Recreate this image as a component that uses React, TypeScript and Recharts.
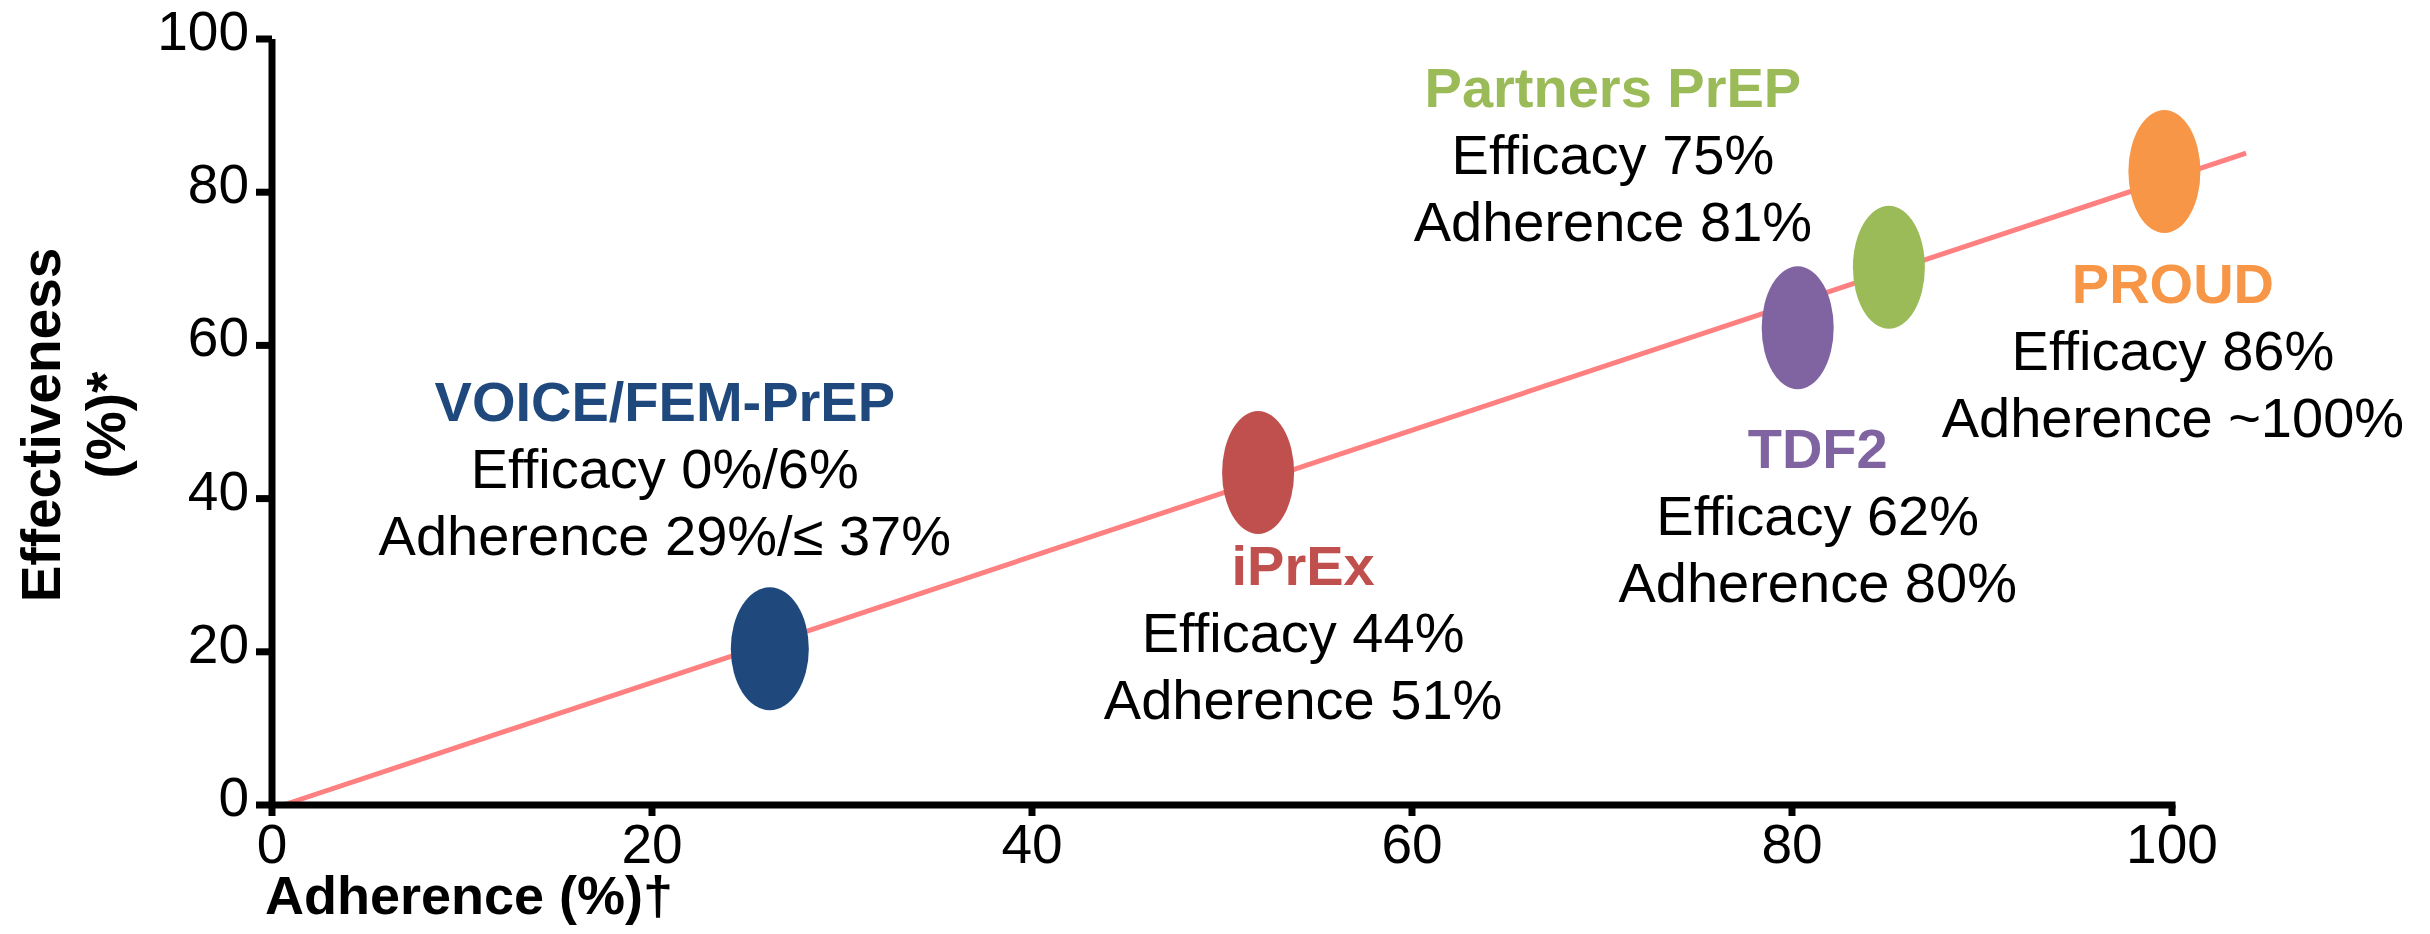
import React from 'react';
import {
  ComposedChart,
  XAxis,
  YAxis,
  Line,
  Scatter,
  ReferenceLine,
  Label,
} from 'recharts';

// ---------- data ----------
const studies = ['VOICE/FEM-PrEP', 'iPrEx', 'TDF2', 'Partners PrEP', 'PROUD'];
const adherence = [26.2, 51.9, 80.3, 85.1, 99.6];
const effectiveness = [20.4, 43.4, 62.3, 70.2, 82.7];
const efficacyText = ['Efficacy 0%/6%', 'Efficacy 44%', 'Efficacy 62%', 'Efficacy 75%', 'Efficacy 86%'];
const adherenceText = [
  'Adherence 29%/\u2264 37%',
  'Adherence 51%',
  'Adherence 80%',
  'Adherence 81%',
  'Adherence ~100%',
];
const trendX = [0.6, 103.9];
const trendY = [0, 85.1];
const xTicks = [0, 20, 40, 60, 80, 100];
const yTicks = [0, 20, 40, 60, 80, 100];

// ---------- styles / layout ----------
const colors = ['#1F497D', '#C0504D', '#8064A2', '#9BBB59', '#F79646'];
const ellipseRx = [39, 36, 36, 36, 36];
const ellipseRy = 61.5;
// label anchor relative to ellipse centre (px): [dx, dy of title baseline]
const labelOffsets: [number, number][] = [
  [-105, -228],
  [45, 112],
  [20, 140],
  [-276, -160],
  [8.5, 131.5],
];
const lineGap = 67;
const FONT = '"Liberation Sans", Arial, Helvetica, sans-serif';
const FS = 56;

const points = studies.map((name, i) => ({
  name,
  idx: i,
  x: adherence[i],
  y: effectiveness[i],
}));
const trendData = trendX.map((x, i) => ({ x, trend: trendY[i] }));

const StudyShape = (props: any) => {
  const { cx, cy, payload } = props;
  const i = payload.idx;
  const [dx, dy] = labelOffsets[i];
  const tx = cx + dx;
  const ty = cy + dy;
  return (
    <g>
      <ellipse cx={cx} cy={cy} rx={ellipseRx[i]} ry={ellipseRy} fill={colors[i]} />
      <text x={tx} y={ty} textAnchor="middle" fontFamily={FONT} fontSize={FS} fontWeight="bold" fill={colors[i]}>
        {payload.name}
      </text>
      <text x={tx} y={ty + lineGap} textAnchor="middle" fontFamily={FONT} fontSize={FS} fill="#000">
        {efficacyText[i]}
      </text>
      <text x={tx} y={ty + 2 * lineGap} textAnchor="middle" fontFamily={FONT} fontSize={FS} fill="#000">
        {adherenceText[i]}
      </text>
    </g>
  );
};

const YTick = (props: any) => {
  const { x, y, payload } = props;
  return (
    <text x={x} y={y + 11} textAnchor="end" fontFamily={FONT} fontSize={55} fill="#000">
      {payload.value}
    </text>
  );
};

const XTick = (props: any) => {
  const { x, y, payload } = props;
  return (
    <text x={x} y={y + 40} textAnchor="middle" fontFamily={FONT} fontSize={55} fill="#000">
      {payload.value}
    </text>
  );
};

const YLabel = () => (
  <g>
    <text
      x={60}
      y={425}
      transform="rotate(-90 60 425)"
      textAnchor="middle"
      fontFamily={FONT}
      fontSize={55}
      fontWeight="bold"
      fill="#000"
    >
      Effectiveness
    </text>
    <text
      x={125}
      y={425}
      transform="rotate(-90 125 425)"
      textAnchor="middle"
      fontFamily={FONT}
      fontSize={55}
      fontWeight="bold"
      fill="#000"
    >
      (%)*
    </text>
  </g>
);

const XLabel = () => (
  <text x={265} y={914} textAnchor="start" fontFamily={FONT} fontSize={54} fontWeight="bold" fill="#000">
    Adherence (%)†
  </text>
);

export default function App() {
  return (
    <div style={{ position: 'absolute', left: 0, top: 0, width: 2430, height: 934, background: '#fff' }}>
      <ComposedChart
        width={2430}
        height={934}
        margin={{ top: 39, right: 182, bottom: 29, left: 72 }}
      >
        <XAxis
          type="number"
          dataKey="x"
          domain={[0, 104]}
          ticks={xTicks}
          axisLine={false}
          tickLine={{ stroke: '#000', strokeWidth: 7 }}
          tickSize={11}
          tickMargin={7}
          tick={<XTick />}
          height={100}
        >
          <Label content={<XLabel />} />
        </XAxis>
        <YAxis
          type="number"
          domain={[0, 100]}
          ticks={yTicks}
          axisLine={{ stroke: '#000', strokeWidth: 7 }}
          tickLine={{ stroke: '#000', strokeWidth: 7 }}
          tickSize={16}
          tickMargin={7}
          tick={<YTick />}
          width={200}
        >
          <Label content={<YLabel />} />
        </YAxis>
        <Line
          data={trendData}
          dataKey="trend"
          type="linear"
          stroke="#FF8080"
          strokeWidth={5}
          dot={false}
          activeDot={false}
          isAnimationActive={false}
        />
        <ReferenceLine
          segment={[
            { x: 0, y: 0 },
            { x: 100, y: 0 },
          ]}
          stroke="#000"
          strokeWidth={7}
          strokeLinecap="square"
        />
        <Scatter data={points} dataKey="y" shape={<StudyShape />} isAnimationActive={false} />
      </ComposedChart>
    </div>
  );
}
